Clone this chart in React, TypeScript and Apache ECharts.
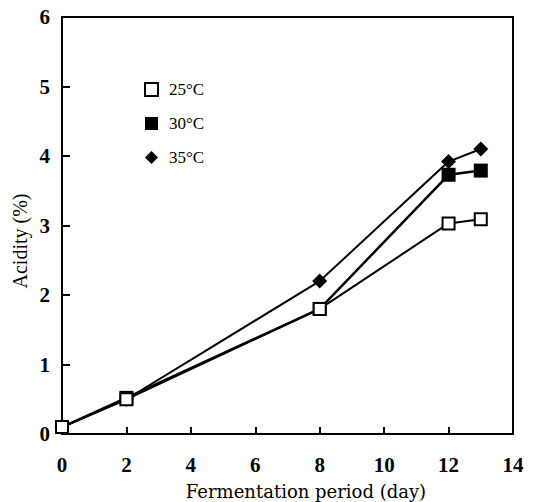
import React, { useEffect, useRef } from "react";
import * as echarts from "echarts";

const days = [0, 2, 8, 12, 13];
const acid25 = [0.1, 0.5, 1.8, 3.03, 3.09];
const acid30 = [0.1, 0.52, 1.8, 3.73, 3.79];
const acid35 = [0.1, 0.5, 2.2, 3.92, 4.1];
const seriesNames = ["25°C", "30°C", "35°C"];

const FONT = "Liberation Serif";

export default function App() {
  const ref = useRef<HTMLDivElement>(null);
  useEffect(() => {
    if (!ref.current) return;
    const chart = echarts.init(ref.current, null, { renderer: "svg" });
    const pair = (ys: number[]) => days.map((d, i) => [d, ys[i]]);
    chart.setOption({
      animation: false,
      backgroundColor: "#fff",
      grid: {
        left: 62,
        right: 24,
        top: 17,
        bottom: 68,
        show: true,
        borderColor: "#000",
        borderWidth: 2,
      },
      legend: {
        orient: "vertical",
        left: 139,
        top: 76,
        itemWidth: 13,
        itemHeight: 13,
        itemGap: 17,
        textStyle: { fontFamily: FONT, fontSize: 17, color: "#000", padding: [0, 0, 0, 6] },
        data: [
          { name: seriesNames[0], icon: "rect", itemStyle: { color: "#fff", borderColor: "#000", borderWidth: 2 } },
          { name: seriesNames[1], icon: "rect", itemStyle: { color: "#000" } },
          { name: seriesNames[2], icon: "diamond", itemStyle: { color: "#000" } },
        ],
      },
      xAxis: {
        type: "value",
        min: 0,
        max: 14,
        interval: 2,
        splitLine: { show: false },
        axisLine: { lineStyle: { color: "#000", width: 2 } },
        axisTick: { inside: true, length: 7, lineStyle: { color: "#000", width: 2 } },
        axisLabel: { margin: 20, fontFamily: FONT, fontSize: 21, fontWeight: "bold", color: "#000" },
      },
      yAxis: {
        type: "value",
        min: 0,
        max: 6,
        interval: 1,
        splitLine: { show: false },
        axisLine: { lineStyle: { color: "#000", width: 2 } },
        axisTick: { inside: true, length: 8, lineStyle: { color: "#000", width: 2 } },
        axisLabel: { margin: 12, fontFamily: FONT, fontSize: 21, fontWeight: "bold", color: "#000" },
      },
      graphic: [
        {
          type: "text",
          x: 306,
          y: 491,
          style: {
            text: "Fermentation period (day)",
            fontFamily: "DejaVu Serif",
            fontSize: 18,
            fill: "#000",
            align: "center",
            verticalAlign: "middle",
          },
        },
        {
          type: "text",
          x: 20,
          y: 241,
          rotation: Math.PI / 2,
          style: {
            text: "Acidity (%)",
            fontFamily: FONT,
            fontSize: 20,
            fill: "#000",
            align: "center",
            verticalAlign: "middle",
          },
        },
      ],
      series: [
        {
          name: seriesNames[0],
          type: "line",
          data: pair(acid25),
          symbol: "rect",
          symbolSize: 12,
          lineStyle: { color: "#000", width: 2 },
          itemStyle: { color: "#fff", borderColor: "#000", borderWidth: 2 },
          z: 3,
        },
        {
          name: seriesNames[1],
          type: "line",
          data: pair(acid30),
          symbol: "rect",
          symbolSize: 14,
          lineStyle: { color: "#000", width: 2.5 },
          itemStyle: { color: "#000" },
          z: 2,
        },
        {
          name: seriesNames[2],
          type: "line",
          data: pair(acid35),
          symbol: "diamond",
          symbolSize: 15,
          lineStyle: { color: "#000", width: 2 },
          itemStyle: { color: "#000" },
          z: 2,
        },
      ],
    });
    return () => chart.dispose();
  }, []);
  return <div ref={ref} style={{ width: 537, height: 502, position: "absolute", left: 0, top: 0 }} />;
}
